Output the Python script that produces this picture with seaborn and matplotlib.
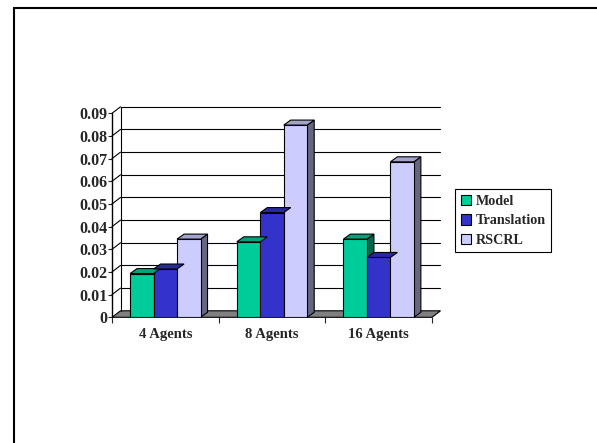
import pandas as pd
import seaborn as sns
import matplotlib.pyplot as plt
from matplotlib.patches import Polygon, Patch
from matplotlib.lines import Line2D
import matplotlib.colors as mcolors

sns.set_style("white")
plt.rcParams['font.family'] = ['Liberation Serif', 'DejaVu Serif']
plt.rcParams['font.weight'] = 'bold'

categories = ["4 Agents", "8 Agents", "16 Agents"]
series = ["Model", "Translation", "RSCRL"]
model = [0.0193, 0.0333, 0.0345]
translation = [0.0213, 0.0462, 0.0264]
rscrl = [0.0345, 0.0848, 0.0686]
yticks = [0, 0.01, 0.02, 0.03, 0.04, 0.05, 0.06, 0.07, 0.08, 0.09]
ytick_labels = ["0", "0.01", "0.02", "0.03", "0.04", "0.05", "0.06", "0.07", "0.08", "0.09"]

front = {"Model": "#00CC99", "Translation": "#3333CC", "RSCRL": "#CCCCFF"}
top = {"Model": "#00A37A", "Translation": "#28289F", "RSCRL": "#A3A3CC"}
side = {"Model": "#006650", "Translation": "#1A1A66", "RSCRL": "#666680"}

df = pd.DataFrame({
    "cat": categories * 3,
    "series": ["Model"] * 3 + ["Translation"] * 3 + ["RSCRL"] * 3,
    "value": model + translation + rscrl,
})

W, H = 597, 443
fig = plt.figure(figsize=(W / 100, H / 100), dpi=100)
ax_l, ax_r, ax_t, ax_b = 112, 432, 113.3, 317.3
ax = fig.add_axes([ax_l / W, 1 - ax_b / H, (ax_r - ax_l) / W, (ax_b - ax_t) / H])

sns.barplot(data=df, x="cat", y="value", hue="series", order=categories,
            hue_order=series, palette=front, width=0.66, saturation=1,
            edgecolor="black", linewidth=0.8, legend=False, ax=ax, zorder=3)

x0, x1 = -0.5, 2.5
ax.set_xlim(x0, x1)
ax.set_ylim(0, 0.09)
px_x = (x1 - x0) / (ax_r - ax_l)
px_y = 0.09 / (ax_b - ax_t)

# walls and floor
wdx, wdy = 8.5 * px_x, 6.5 * px_y
floor = Polygon([(x0, 0), (x1, 0), (x1 + wdx, wdy), (x0 + wdx, wdy)],
                closed=True, facecolor="#808080", edgecolor="black",
                linewidth=0.8, clip_on=False, zorder=1)
ax.add_patch(floor)
for v in yticks[1:]:
    ax.plot([x0 + wdx, x1 + wdx], [v + wdy, v + wdy], color="black",
            linewidth=0.8, clip_on=False, zorder=1)
    ax.plot([x0, x0 + wdx], [v, v + wdy], color="black",
            linewidth=0.8, clip_on=False, zorder=1)
ax.plot([x0 + wdx, x0 + wdx], [wdy, 0.09 + wdy], color="black",
        linewidth=0.8, clip_on=False, zorder=1)
ax.plot([x0, x0], [0, 0.09], color="black", linewidth=1.0,
        clip_on=False, zorder=2)

# bar depth faces
bdx, bdy = 7 * px_x, 5 * px_y
for p in ax.patches[:]:
    if not hasattr(p, "get_width") or p is floor:
        continue
    fc = mcolors.to_hex(p.get_facecolor()).upper()
    name = [k for k, c in front.items() if c == fc]
    if not name:
        continue
    name = name[0]
    bx, bw, bh = p.get_x(), p.get_width(), p.get_height()
    ax.add_patch(Polygon([(bx, bh), (bx + bw, bh), (bx + bw + bdx, bh + bdy), (bx + bdx, bh + bdy)],
                         closed=True, facecolor=top[name], edgecolor="black",
                         linewidth=0.8, clip_on=False, zorder=3))
    ax.add_patch(Polygon([(bx + bw, 0), (bx + bw + bdx, bdy), (bx + bw + bdx, bh + bdy), (bx + bw, bh)],
                         closed=True, facecolor=side[name], edgecolor="black",
                         linewidth=0.8, clip_on=False, zorder=2.9))

for s in ax.spines.values():
    s.set_visible(False)
ax.set_facecolor("none")
ax.set_xlabel("")
ax.set_ylabel("")
ax.set_yticks(yticks)
ax.set_yticklabels(ytick_labels, fontsize=11.5, fontweight="bold")
ax.tick_params(axis="y", left=True, length=3, width=0.8, pad=0.5)
ax.set_xticks([0, 1, 2])
ax.set_xticklabels(categories, fontsize=10.5, fontweight="bold")
ax.tick_params(axis="x", bottom=False, length=0, pad=8)
ax.set_xticks([-0.5, 0.5, 1.5, 2.5], minor=True)
ax.tick_params(axis="x", which="minor", bottom=True, length=4, width=0.8)

handles = [Patch(facecolor=front[s], edgecolor="black", linewidth=0.8) for s in series]
leg = fig.legend(handles, series, loc="upper left",
                 bbox_to_anchor=(455 / W, 1 - 189 / H), frameon=True,
                 fancybox=False, edgecolor="black", framealpha=1,
                 handlelength=0.75, handleheight=0.75, handletextpad=0.3,
                 borderpad=0.4, labelspacing=0.45, borderaxespad=0,
                 prop={"size": 10.2, "weight": "bold"})
leg.get_frame().set_linewidth(0.8)

# outer frame
fig.add_artist(Line2D([14 / W, 1], [1 - 8 / H, 1 - 8 / H], color="black", linewidth=1.5))
fig.add_artist(Line2D([14 / W, 14 / W], [0, 1 - 8 / H], color="black", linewidth=1.5))

fig.savefig("out.png", dpi=100)
